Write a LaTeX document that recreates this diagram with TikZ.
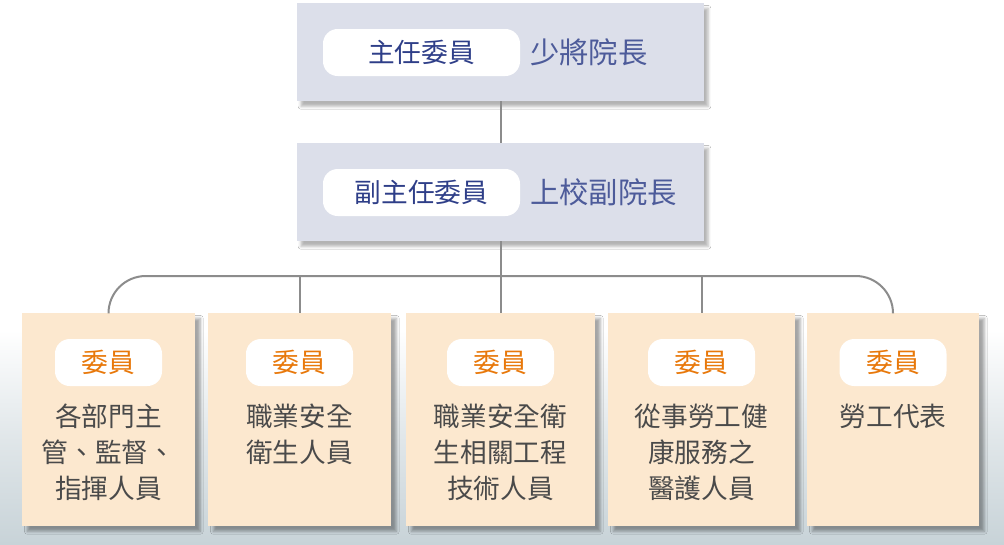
\documentclass[tikz,border=0pt]{standalone}
\usepackage{fontspec}
\setmainfont{Noto Sans CJK TC}
\usetikzlibrary{shadows.blur}
\definecolor{headfill}{HTML}{DCDFEA}
\definecolor{headtext}{HTML}{2E3E88}
\definecolor{unitfill}{HTML}{FCE8CF}
\definecolor{unittext}{HTML}{4A4A4A}
\definecolor{roletext}{HTML}{E8780A}
\definecolor{linkgray}{HTML}{8C8C8C}
\definecolor{seabg}{HTML}{C8D3D8}
\tikzset{
	headbox/.style={fill=headfill, minimum width=305.25pt, minimum height=73.5pt, inner sep=0pt,
		blur shadow={shadow xshift=3pt, shadow yshift=-4pt, shadow opacity=30}},
	headpill/.style={fill=white, rounded corners=11pt, minimum width=147.75pt, minimum height=35.25pt,
		inner sep=0pt, text=headtext, font=\fontsize{20pt}{24pt}\selectfont},
	headrank/.style={anchor=west, inner sep=0pt, text=headtext!85, font=\fontsize{22pt}{26pt}\selectfont},
	unitbox/.style={fill=unitfill, minimum height=159.75pt, inner sep=0pt,
		blur shadow={shadow xshift=4pt, shadow yshift=-4pt, shadow opacity=35}},
	rolepill/.style={fill=white, rounded corners=11pt, minimum width=80.25pt, minimum height=35.25pt,
		inner sep=0pt, text=roletext, font=\fontsize{20pt}{24pt}\selectfont},
	jobtext/.style={anchor=north, align=center, inner sep=0pt, text=unittext, font=\fontsize{20pt}{27pt}\selectfont},
	link/.style={draw=linkgray, line width=1.5pt}
}
\begin{document}
\begin{tikzpicture}[x=0.75pt,y=-0.75pt]
		\useasboundingbox (0,0) rectangle (1004,544);
		\fill[white] (0,0) rectangle (1004,330);
		\shade[top color=white, bottom color=seabg, middle color=seabg!55] (0,330) rectangle (1004,544);
		% head of the committee
		\node[headbox] (chief) at (500.5,52) {};
		\node[headpill] (chiefrole) at (421.5,52.5) {主任委員};
		\node[headrank] (chiefrank) at (530,52) {少將院長};
		\node[headbox] (deputy) at (500.5,192) {};
		\node[headpill] (deputyrole) at (421.5,192.5) {副主任委員};
		\node[headrank] (deputyrank) at (530,192) {上校副院長};
		% members
		\foreach \i/\cx/\w/\job in {1/108.5/173/{各部門主\\管、監督、\\指揮人員},
			2/299.5/183/{職業安全\\衛生人員},
			3/500.5/189/{職業安全衛\\生相關工程\\技術人員},
			4/701.5/187/{從事勞工健\\康服務之\\醫護人員},
			5/893/172/{勞工代表}}
		{
		\node[unitbox, minimum width=\w*0.75pt] (unit\i) at (\cx,419.5) {};
		\node[rolepill] (role\i) at (\cx,362.5) {委員};
		\node[jobtext] (job\i) at (\cx,404) {\job};
		}
		% connectors
		\coordinate (bus) at (500.5,276);
		\draw[link] (chief) -- (deputy);
		\draw[link] (deputy) -- (bus);
		\draw[link, rounded corners=28pt] (unit1.north) -- (unit1.north |- bus) -- (unit5.north |- bus) -- (unit5.north);
		\foreach \i in {2,3,4}
		\draw[link] (unit\i.north) -- (unit\i.north |- bus);
\end{tikzpicture}
\end{document}
